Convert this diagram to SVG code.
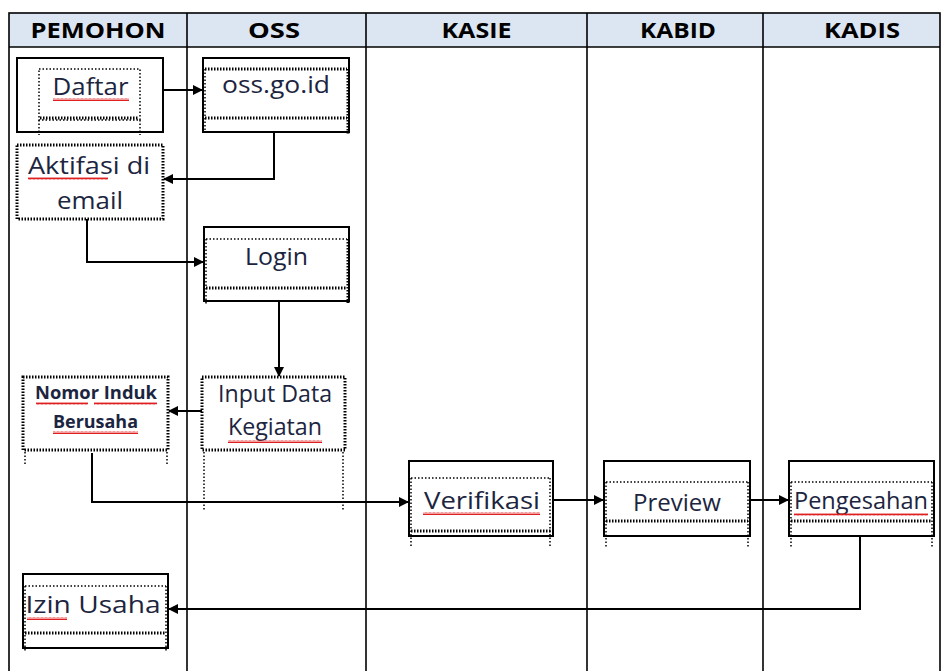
<svg xmlns="http://www.w3.org/2000/svg" width="943" height="671" viewBox="0 0 943 671">
<defs>
<style>
.hd{font-family:"Open Sans","Liberation Sans",sans-serif;font-weight:bold;font-size:21px;fill:#000;text-anchor:middle}
.t{font-family:"Open Sans","Liberation Sans",sans-serif;font-size:24px;fill:#1c2540;text-anchor:middle}
.tb{font-family:"Open Sans","Liberation Sans",sans-serif;font-size:17px;font-weight:bold;fill:#1c2540;text-anchor:middle}
.grid{stroke:#000;stroke-width:1.6;fill:none}
.box{fill:#fff;stroke:#000;stroke-width:2}
.dbox{fill:#fff;stroke:#000;stroke-width:3;stroke-dasharray:1.5 1.5}
.dl{stroke:#000;stroke-width:1.5;stroke-dasharray:1.5 2;fill:none}
.dt{stroke:#000;stroke-width:3;stroke-dasharray:1.5 1.5;fill:none}
.c{stroke:#000;stroke-width:2;fill:none;marker-end:url(#ah)}
</style>
<marker id="ah" markerWidth="10" markerHeight="10" refX="9" refY="5" orient="auto" markerUnits="userSpaceOnUse"><path d="M0,0 L10,5 L0,10 z" fill="#000"/></marker>
<pattern id="wave" width="4" height="3" patternUnits="userSpaceOnUse"><path d="M0,2.5 L1,0.5 L2,2.5 L3,0.5 L4,2.5" stroke="#e02020" stroke-width="1" fill="none"/></pattern>
</defs>

<g id="table">
<rect x="9" y="13" width="931" height="34" fill="#dce6f2"/>
<rect x="9" y="13" width="931" height="670" class="grid"/>
<line x1="9" y1="47" x2="940" y2="47" class="grid"/>
<line x1="187" y1="13" x2="187" y2="671" class="grid"/>
<line x1="366" y1="13" x2="366" y2="671" class="grid"/>
<line x1="587" y1="13" x2="587" y2="671" class="grid"/>
<line x1="763" y1="13" x2="763" y2="671" class="grid"/>
<text class="hd" x="98" y="38" textLength="135" lengthAdjust="spacingAndGlyphs">PEMOHON</text>
<text class="hd" x="274" y="38" textLength="52" lengthAdjust="spacingAndGlyphs">OSS</text>
<text class="hd" x="476.5" y="38" textLength="70" lengthAdjust="spacingAndGlyphs">KASIE</text>
<text class="hd" x="678" y="38" textLength="76" lengthAdjust="spacingAndGlyphs">KABID</text>
<text class="hd" x="862" y="38" textLength="76" lengthAdjust="spacingAndGlyphs">KADIS</text>
</g>

<g id="connectors">
<path class="c" d="M163,90 L202,90"/>
<path class="c" d="M274,132 L274,179 L164,179"/>
<path class="c" d="M87,219 L87,262 L203,262"/>
<path class="c" d="M279,301 L279,376"/>
<path class="c" d="M202,411 L169,411"/>
<path class="c" d="M92,453 L92,502 L408,502"/>
<path class="c" d="M553,500 L603,500"/>
<path class="c" d="M750,500 L788,500"/>
<path class="c" d="M860,536 L860,609 L169,609"/>
</g>

<g id="daftar">
<rect class="box" x="17" y="58" width="146" height="74"/>
<rect class="dl" x="39" y="69" width="101" height="51"/>
<line class="dt" x1="40" y1="118" x2="139" y2="118"/>
<line class="dl" x1="39" y1="120" x2="39" y2="135"/>
<line class="dl" x1="140" y1="120" x2="140" y2="135"/>
<text class="t" x="90.5" y="95" font-size="25" textLength="76" lengthAdjust="spacingAndGlyphs">Daftar</text>
<rect x="53" y="98" width="76" height="3" fill="url(#wave)"/>
</g>

<g id="oss">
<rect class="box" x="203" y="58" width="146" height="74"/>
<line class="dt" x1="205" y1="69" x2="347" y2="69"/>
<line class="dt" x1="205" y1="118" x2="347" y2="118"/>
<line class="dl" x1="205" y1="69" x2="205" y2="132"/>
<line class="dt" x1="348" y1="69" x2="348" y2="135"/>
<text class="t" x="276" y="93" font-size="25" textLength="108" lengthAdjust="spacingAndGlyphs">oss.go.id</text>
</g>

<g id="aktifasi">
<rect class="dbox" x="17" y="145" width="146" height="74"/>
<text class="t" x="89" y="174" textLength="122" lengthAdjust="spacingAndGlyphs">Aktifasi di</text>
<text class="t" x="90" y="209" textLength="66" lengthAdjust="spacingAndGlyphs">email</text>
<rect x="28" y="177" width="80" height="3" fill="url(#wave)"/>
</g>

<g id="login">
<rect class="box" x="204" y="227" width="145" height="74"/>
<line class="dl" x1="206" y1="239" x2="347" y2="239"/>
<line class="dt" x1="206" y1="288" x2="347" y2="288"/>
<line class="dl" x1="206" y1="239" x2="206" y2="304"/>
<line class="dt" x1="348" y1="239" x2="348" y2="303"/>
<text class="t" x="276.5" y="265" font-size="25" textLength="63" lengthAdjust="spacingAndGlyphs">Login</text>
</g>

<g id="input">
<rect class="dbox" x="202" y="377" width="143" height="73"/>
<line class="dl" x1="204" y1="452" x2="204" y2="510"/>
<line class="dl" x1="343" y1="452" x2="343" y2="510"/>
<text class="t" x="275" y="402" font-size="20" textLength="114" lengthAdjust="spacingAndGlyphs">Input Data</text>
<text class="t" x="275" y="435" font-size="20" textLength="94" lengthAdjust="spacingAndGlyphs">Kegiatan</text>
<rect x="228" y="440" width="94" height="3" fill="url(#wave)"/>
</g>

<g id="nib">
<rect class="dbox" x="23" y="377" width="145" height="73"/>
<line class="dl" x1="25" y1="452" x2="25" y2="466"/>
<line class="dl" x1="167" y1="452" x2="167" y2="466"/>
<text class="tb" x="96" y="399" textLength="122" lengthAdjust="spacingAndGlyphs">Nomor Induk</text>
<text class="tb" x="95.5" y="428" textLength="85" lengthAdjust="spacingAndGlyphs">Berusaha</text>
<rect x="36" y="402" width="52" height="3" fill="url(#wave)"/>
<rect x="94" y="402" width="63" height="3" fill="url(#wave)"/>
<rect x="53" y="431" width="85" height="3" fill="url(#wave)"/>
</g>

<g id="verifikasi">
<rect class="box" x="409" y="461" width="144" height="75"/>
<line class="dl" x1="411" y1="478" x2="551" y2="478"/>
<line class="dt" x1="411" y1="531" x2="551" y2="531"/>
<line class="dl" x1="411" y1="478" x2="411" y2="548"/>
<line class="dl" x1="550" y1="478" x2="550" y2="548"/>
<text class="t" x="482" y="509" font-size="26" textLength="116" lengthAdjust="spacingAndGlyphs">Verifikasi</text>
<rect x="423" y="512" width="117" height="3" fill="url(#wave)"/>
</g>

<g id="preview">
<rect class="box" x="604" y="461" width="146" height="75"/>
<line class="dl" x1="606" y1="482" x2="748" y2="482"/>
<line class="dt" x1="606" y1="521" x2="748" y2="521"/>
<line class="dl" x1="606" y1="482" x2="606" y2="548"/>
<line class="dl" x1="748" y1="482" x2="748" y2="548"/>
<text class="t" x="677" y="511" font-size="22" textLength="88" lengthAdjust="spacingAndGlyphs">Preview</text>
</g>

<g id="pengesahan">
<rect class="box" x="789" y="461" width="145" height="75"/>
<line class="dl" x1="791" y1="482" x2="932" y2="482"/>
<line class="dt" x1="791" y1="521" x2="932" y2="521"/>
<line class="dl" x1="791" y1="482" x2="791" y2="548"/>
<line class="dl" x1="932" y1="482" x2="932" y2="548"/>
<text class="t" x="861" y="509" font-size="22" textLength="134" lengthAdjust="spacingAndGlyphs">Pengesahan</text>
<rect x="794" y="513" width="134" height="3" fill="url(#wave)"/>
</g>

<g id="izin">
<rect class="box" x="23" y="574" width="145" height="74"/>
<line class="dl" x1="25" y1="586" x2="166" y2="586"/>
<line class="dt" x1="25" y1="633" x2="166" y2="633"/>
<line class="dl" x1="25" y1="586" x2="25" y2="651"/>
<line class="dl" x1="166" y1="586" x2="166" y2="651"/>
<text class="t" x="93" y="613" font-size="23" textLength="135" lengthAdjust="spacingAndGlyphs">Izin Usaha</text>
<rect x="27" y="617" width="40" height="3" fill="url(#wave)"/>
</g>
</svg>
